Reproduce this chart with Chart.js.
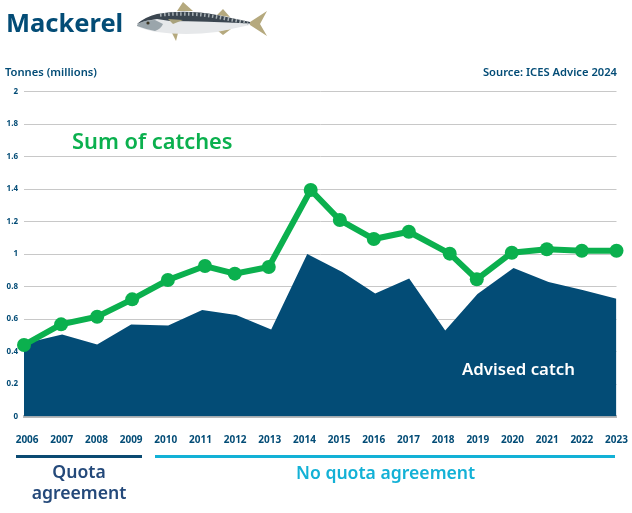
<!DOCTYPE html>
<html>
<head>
<meta charset="utf-8">
<title>Mackerel</title>
<script src="https://cdn.jsdelivr.net/npm/chart.js@4/dist/chart.umd.min.js"></script>
<style>
  html, body { margin: 0; padding: 0; background: #fff; }
  #page { position: relative; width: 632px; height: 513px; overflow: hidden; font-family: "Noto Sans", sans-serif; font-weight: 600; }
  #page canvas { position: absolute; left: 0; top: 0; }
  .txt { position: absolute; white-space: nowrap; line-height: 1; }
  .bar { position: absolute; height: 3px; }
</style>
</head>
<body>
<div id="page">
  <canvas id="chart" width="632" height="513"></canvas>
  <div class="txt" style="left:6px;top:10px;font-size:25.5px;font-weight:700;color:#034c76">Mackerel</div>
  <svg style="position:absolute;left:0;top:0" width="300" height="45">
    <path d="M177 11L183 2L193 11Z M217 15L223 9L230 17Z M172 33L176 41L178 33Z M218 31L223 35L231 29Z M250 22L267 11L260 24L267 36L250 25Z" fill="#b5a97e"/>
    <path d="M137 24Q145 17 157 14Q185 9 217 15L250 22L250 25L217 32Q185 36 157 32Q145 30 137 26Z" fill="#e6e8ea"/>
    <path d="M137 24Q145 17 157 14Q185 9 217 15L250 22L250 23.5Q205 21 170 21L157 19Q147 20 137 24Z" fill="#3b4650"/>
    <path d="M160 15Q190 12 217 17L248 23" fill="none" stroke="#aab2b6" stroke-width="3.5" stroke-dasharray="1.5 2.5"/>
    <path d="M137 25Q142 20 155 20L163 24Q161 29 155 31Q145 29 137 26Z" fill="#9aa5ab"/>
    <path d="M168 19L183 20L173 24Z" fill="#a9a27c"/>
    <circle cx="148" cy="23" r="1.6" fill="#3a3524"/>
  </svg>
  <div class="txt" style="left:5px;top:66px;font-size:11.2px;color:#034c76">Tonnes (millions)</div>
  <div class="txt" style="right:15px;top:66px;font-size:11.2px;color:#034c76">Source: ICES Advice 2024</div>
  <div class="txt" style="left:72px;top:130px;font-size:21.8px;color:#0bb04e">Sum of catches</div>
  <div class="txt" style="left:462px;top:361px;font-size:16.8px;color:#fff">Advised catch</div>
  <div class="bar" style="left:16px;top:455px;width:126px;background:#0a4a72"></div>
  <div class="bar" style="left:155px;top:455px;width:460px;background:#13b1d6"></div>
  <div class="txt" style="left:16px;width:126px;top:463px;font-size:17.6px;color:#24497a;text-align:center">Quota</div>
  <div class="txt" style="left:16px;width:126px;top:484px;font-size:17.6px;color:#24497a;text-align:center">agreement</div>
  <div class="txt" style="left:296px;top:464px;font-size:17.6px;color:#13b1d6">No quota agreement</div>
</div>
<script>
// x positions, the marks are not evenly spaced on the year ticks
const catchYears = [2005.91, 2006.98, 2008.02, 2009.03, 2010.06, 2011.13, 2011.99, 2012.97, 2014.18, 2015.02, 2016.0, 2017.01, 2018.19, 2018.97, 2019.98, 2020.99, 2022.0, 2023.0];
const sumOfCatches = [0.44, 0.567, 0.614, 0.721, 0.84, 0.926, 0.879, 0.92, 1.394, 1.209, 1.092, 1.137, 1.002, 0.844, 1.008, 1.029, 1.02, 1.02];
const advisedYears = [2005.91, 2007.01, 2008.02, 2009.0, 2010.07, 2011.05, 2012.03, 2013.04, 2014.08, 2015.09, 2016.04, 2017.02, 2018.06, 2018.99, 2020.03, 2021.04, 2022.02, 2023.0];
const advisedCatch = [0.45, 0.505, 0.443, 0.566, 0.56, 0.655, 0.625, 0.535, 1.0, 0.889, 0.757, 0.849, 0.529, 0.754, 0.914, 0.828, 0.778, 0.725];

const navy = '#034c76';
const green = '#0bb04e';

const toPoints = (xs, ys) => xs.map((x, i) => ({ x: x, y: ys[i] }));

new Chart(document.getElementById('chart'), {
  type: 'line',
  data: {
    datasets: [
      {
        label: 'Sum of catches',
        data: toPoints(catchYears, sumOfCatches),
        borderColor: green,
        backgroundColor: green,
        borderWidth: 6,
        pointRadius: 7,
        pointBorderWidth: 0,
        tension: 0,
        clip: false,
        order: 1,
      },
      {
        label: 'Advised catch',
        data: toPoints(advisedYears, advisedCatch),
        borderWidth: 0,
        backgroundColor: navy,
        fill: 'origin',
        pointRadius: 0,
        tension: 0,
        order: 2,
      },
    ],
  },
  options: {
    responsive: false,
    animation: false,
    layout: { padding: { left: 0, top: 91.5, right: 15.5, bottom: 0 } },
    plugins: { legend: { display: false }, tooltip: { enabled: false } },
    scales: {
      x: {
        type: 'linear',
        min: 2005.91,
        max: 2023,
        // the last label may hang over the plot edge, keep the plot at full width
        afterFit: (scale) => {
          scale.height = 96.5;
          scale.paddingLeft = 0;
          scale.paddingRight = 0;
        },
        grid: { display: false },
        border: { display: true, color: '#b8b8b8', width: 3 },
        ticks: {
          stepSize: 1,
          includeBounds: false,
          autoSkip: false,
          maxRotation: 0,
          padding: 10,
          color: navy,
          font: { family: 'Noto Sans', size: 10, weight: '700' },
          callback: (v) => String(v),
        },
      },
      y: {
        min: 0,
        max: 2,
        afterFit: (scale) => { scale.width = 24; },
        grid: { color: '#c8c8c8', lineWidth: 1, drawTicks: false },
        border: { display: false },
        ticks: {
          stepSize: 0.2,
          padding: 6,
          color: navy,
          font: { family: 'Noto Sans', size: 8, weight: '700' },
          callback: (v) => String(Number(v.toFixed(1))),
        },
      },
    },
  },
});
</script>
</body>
</html>
